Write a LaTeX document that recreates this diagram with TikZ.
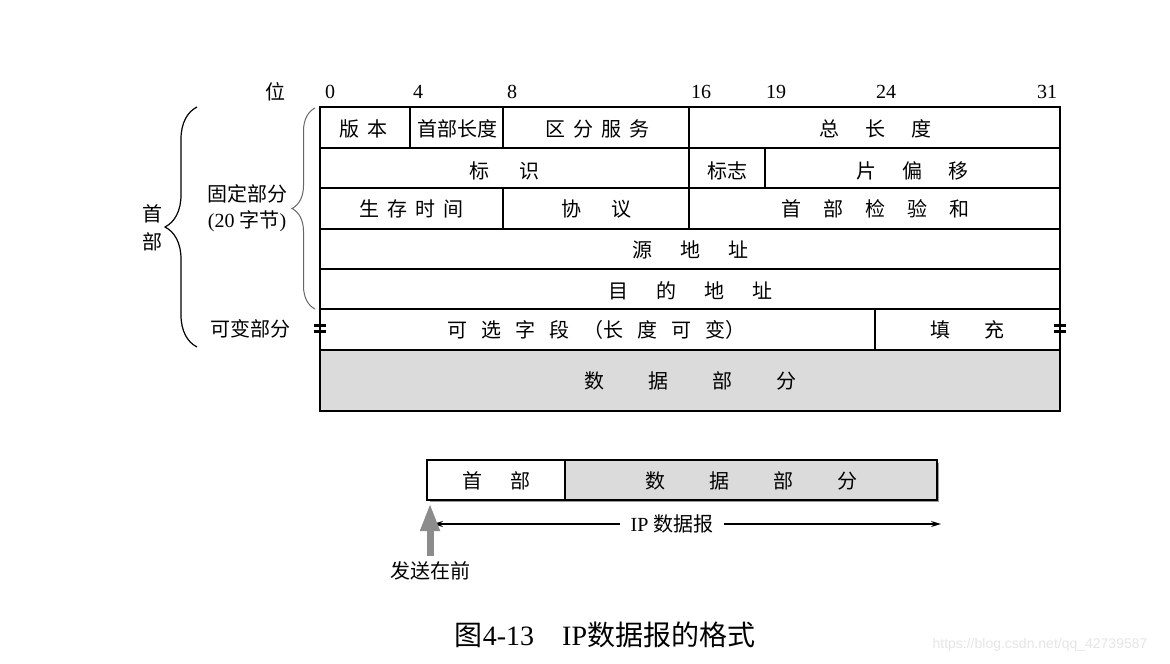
\documentclass[tikz,border=0pt]{standalone}
\usepackage{fontspec}
\setmainfont{Liberation Serif}
\newfontfamily\cjk{Noto Sans CJK SC}
\newfontfamily\wmfont{Liberation Sans}
\usetikzlibrary{positioning, arrows.meta, decorations.pathreplacing}

\begin{document}
\begin{tikzpicture}[x=0.5pt, y=-0.5pt, font=\fontsize{10}{12}\selectfont,
  grid/.style={line width=0.75pt},
  lbl/.style={inner sep=0pt},
  databg/.style={fill=black!14},
  bracebig/.style={decorate, decoration={brace, amplitude=#1}, line width=0.6pt}]
\useasboundingbox (0,0) rectangle (1170,663);

% bit numbers
\node[lbl] (wei) at (275,92) {\cjk 位};
\foreach \b/\x in {0/330,4/418,8/512,16/701,19/776,24/886,31/1047}
  \node[lbl] (b\b) at (\x,92) {\b};

% header and data grid
\draw[grid, databg] (320,350) rectangle (1060,411);
\draw[grid] (320,107) rectangle (1060,350);
\foreach \y in {148,188,229,269,309}
  \draw[grid] (320,\y) -- (1060,\y);
\draw[grid] (410,107) -- (410,148);
\draw[grid] (503,107) -- (503,148);
\draw[grid] (689,107) -- (689,229);
\draw[grid] (765,148) -- (765,188);
\draw[grid] (503,188) -- (503,229);
\draw[grid] (875,309) -- (875,350);

% variable part marks
\foreach \x in {320,1060} {
  \draw[line width=1.5pt] (\x-6,325) -- (\x+6,325);
  \draw[line width=1.5pt] (\x-6,331) -- (\x+6,331);
}

% field labels
\node[lbl] (ver) at (363,129) {\cjk 版\hspace{4pt}本};
\node[lbl] (ihl) at (457,129) {\cjk 首部长度};
\node[lbl] (tos) at (597,129) {\cjk 区\hspace{4pt}分\hspace{4pt}服\hspace{4pt}务};
\node[lbl] (len) at (875,129) {\cjk 总\hspace{13pt}长\hspace{13pt}度};
\node[lbl] (id) at (504,171) {\cjk 标\hspace{15pt}识};
\node[lbl] (flag) at (727,171) {\cjk 标志};
\node[lbl] (frag) at (912,171) {\cjk 片\hspace{13pt}偏\hspace{13pt}移};
\node[lbl] (ttl) at (411,209) {\cjk 生\hspace{4pt}存\hspace{4pt}时\hspace{4pt}间};
\node[lbl] (proto) at (596,209) {\cjk 协\hspace{15pt}议};
\node[lbl] (csum) at (875,209) {\cjk 首\hspace{11pt}部\hspace{11pt}检\hspace{11pt}验\hspace{11pt}和};
\node[lbl] (src) at (690,250) {\cjk 源\hspace{14pt}地\hspace{14pt}址};
\node[lbl] (dst) at (690,291) {\cjk 目\hspace{14pt}的\hspace{14pt}地\hspace{14pt}址};
\node[lbl] (opt) at (596,330) {\cjk 可\hspace{7pt}选\hspace{7pt}字\hspace{7pt}段\hspace{7pt}（长\hspace{7pt}度\hspace{7pt}可\hspace{7pt}变）};
\node[lbl] (pad) at (967,330) {\cjk 填\hspace{17pt}充};
\node[lbl] (data) at (690,381) {\cjk 数\hspace{22pt}据\hspace{22pt}部\hspace{22pt}分};

% braces
\draw[bracebig=16pt] (197,347) -- (197,107);
\draw[bracebig=11.5pt, draw=black!60, line width=0.5pt] (315,309) -- (315,108);
\node[lbl, align=center] (head) at (152,228) {\cjk 首\\[2pt]\cjk 部};
\node[lbl, align=center] (fixed) at (247,208) {{\cjk 固定部分}\\[1pt](20 {\cjk 字节})};
\node[lbl] (var) at (250,329) {\cjk 可变部分};

% datagram overview
\fill[black!40] (430,463) rectangle (939,502);
\draw[grid, fill=white] (427,460) rectangle (565,500);
\draw[grid, databg] (565,460) rectangle (937,500);
\node[lbl] (ohead) at (496,481) {\cjk 首\hspace{14pt}部};
\node[lbl] (odata) at (751,481) {\cjk 数\hspace{22pt}据\hspace{22pt}部\hspace{22pt}分};

\node[lbl] (ip) at (672,524) {IP {\cjk 数据报}};
\coordinate (ipl) at (433,524);
\coordinate (ipr) at (941,524);
\draw[line width=0.75pt, {Stealth[length=5pt,width=3pt]}-] (ipl) -- ([xshift=-5pt]ip.west);
\draw[line width=0.75pt, -{Stealth[length=5pt,width=3pt]}] ([xshift=5pt]ip.east) -- (ipr);

\node[lbl] (first) at (430,571) {\cjk 发送在前};
\coordinate (arrtop) at (430,503);
\draw[draw=black!45, line width=3.5pt, -{Triangle[width=9pt,length=14pt]}] (first.north) ++(0,-5) -- (arrtop);

% caption
\node[lbl, font=\fontsize{14}{16}\selectfont] (cap) at (605,635) {{\cjk 图}4-13\quad IP{\cjk 数据报的格式}};
\node[lbl, font=\wmfont\fontsize{7}{8}\selectfont, text=black!10] (wm) at (1040,645) {https://blog.csdn.net/qq\_42739587};
\end{tikzpicture}
\end{document}
